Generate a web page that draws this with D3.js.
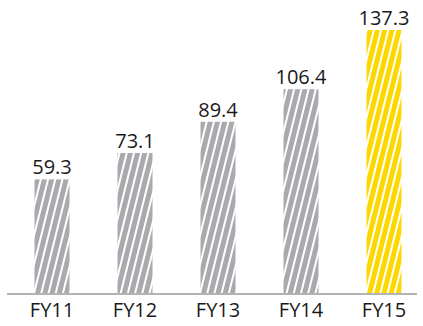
<!DOCTYPE html>
<html>
<head>
<meta charset="utf-8">
<script src="https://cdn.jsdelivr.net/npm/d3@7"></script>
<style>
  body { margin: 0; background: #fff; }
  svg { display: block; }
</style>
</head>
<body>
<div id="chart"></div>
<script>
// data
const years = ["FY11", "FY12", "FY13", "FY14", "FY15"];
const values = [59.3, 73.1, 89.4, 106.4, 137.3];
const highlight = ["FY15"];

const width = 423;
const height = 326;
const baseY = 293;

const svg = d3.select("#chart").append("svg")
    .attr("width", width)
    .attr("height", height);

const x = d3.scalePoint()
    .domain(years)
    .range([52, 384]);

const y = d3.scaleLinear()
    .domain([0, 137.3])
    .range([baseY, 30]);

const barW = 35;

// striped fills
const defs = svg.append("defs");
function stripes(id, col) {
  const p = defs.append("pattern")
      .attr("id", id)
      .attr("patternUnits", "userSpaceOnUse")
      .attr("width", 7)
      .attr("height", 7)
      .attr("patternTransform", "rotate(14)");
  p.append("rect").attr("width", 7).attr("height", 7).attr("fill", col);
  p.append("rect").attr("x", 5).attr("width", 2).attr("height", 7).attr("fill", "#fff");
}
stripes("grey", "#a9a9ae");
stripes("gold", "#fdd800");

const data = years.map((d, i) => ({year: d, value: values[i]}));

svg.append("g")
  .selectAll("rect")
  .data(data)
  .enter().append("rect")
    .attr("x", d => x(d.year) - barW / 2)
    .attr("y", d => y(d.value))
    .attr("width", barW)
    .attr("height", d => baseY - y(d.value))
    .attr("fill", d => highlight.includes(d.year) ? "url(#gold)" : "url(#grey)");

// value labels
svg.append("g")
  .selectAll("text")
  .data(data)
  .enter().append("text")
    .attr("x", d => x(d.year))
    .attr("y", d => y(d.value) - 5)
    .attr("text-anchor", "middle")
    .attr("font-family", "Open Sans")
    .attr("font-size", 20)
    .attr("fill", "#1a1a1a")
    .text(d => d.value.toFixed(1));

// baseline
svg.append("line")
    .attr("x1", 7)
    .attr("x2", 417)
    .attr("y1", baseY + 1)
    .attr("y2", baseY + 1)
    .attr("stroke", "#b3b3b3")
    .attr("stroke-width", 2);

// category labels
svg.append("g")
  .selectAll("text")
  .data(years)
  .enter().append("text")
    .attr("x", d => x(d))
    .attr("y", 317)
    .attr("text-anchor", "middle")
    .attr("font-family", "Open Sans")
    .attr("font-size", 20)
    .attr("fill", "#1a1a1a")
    .text(d => d);
</script>
</body>
</html>
